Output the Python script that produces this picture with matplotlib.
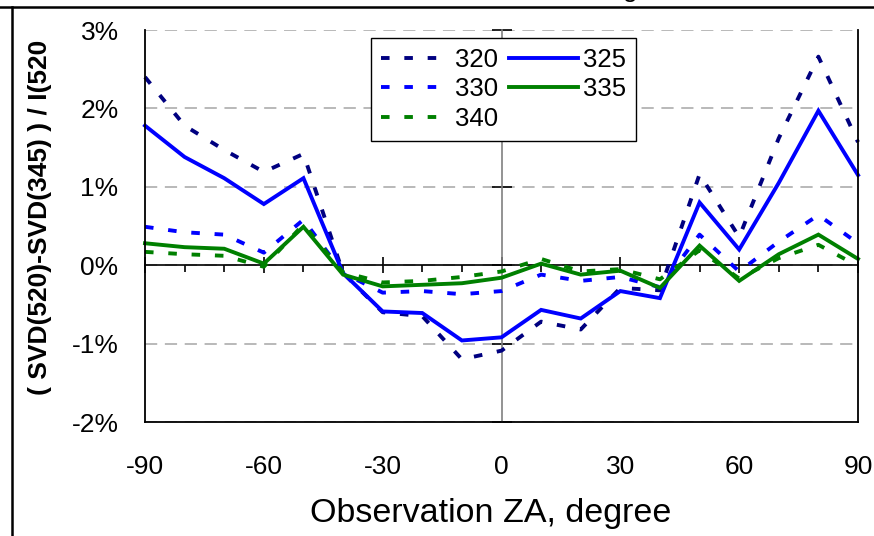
import matplotlib
matplotlib.use('Agg')
import matplotlib.pyplot as plt
from matplotlib.lines import Line2D
from matplotlib.ticker import MultipleLocator, FuncFormatter

plt.rcParams['font.family'] = ['Liberation Sans', 'DejaVu Sans']
plt.rcParams['axes.unicode_minus'] = False

# observation zenith angle, degree
za = [-90, -80, -70, -60, -50, -40, -30, -20, -10, 0, 10, 20, 30, 40, 50, 60, 70, 80, 90]

# relative difference, percent
s320 = [2.40, 1.78, 1.47, 1.19, 1.42, -0.10, -0.60, -0.65, -1.20, -1.09,
        -0.72, -0.82, -0.29, -0.32, 1.16, 0.36, 1.62, 2.66, 1.57]
s325 = [1.78, 1.38, 1.11, 0.78, 1.11, -0.10, -0.59, -0.61, -0.96, -0.92,
        -0.57, -0.68, -0.33, -0.42, 0.80, 0.20, 1.05, 1.97, 1.15]
s330 = [0.49, 0.42, 0.39, 0.16, 0.58, -0.10, -0.35, -0.33, -0.37, -0.33,
        -0.12, -0.20, -0.15, -0.28, 0.39, -0.08, 0.30, 0.64, 0.28]
s335 = [0.28, 0.23, 0.21, 0.02, 0.49, -0.12, -0.27, -0.25, -0.23, -0.16,
        0.02, -0.12, -0.07, -0.29, 0.25, -0.20, 0.14, 0.39, 0.08]
s340 = [0.17, 0.14, 0.12, -0.02, 0.52, -0.09, -0.22, -0.20, -0.15, -0.08,
        0.08, -0.08, -0.05, -0.18, 0.19, -0.17, 0.09, 0.26, -0.01]

series = [
    ('320', s320, '#000080', True),
    ('325', s325, '#0000ff', False),
    ('330', s330, '#0000ff', True),
    ('335', s335, '#008000', False),
    ('340', s340, '#008000', True),
]

W, H = 874, 536
fig = plt.figure(figsize=(W / 100, H / 100), dpi=100)
rect = [145 / W, 1 - 422 / H, (858 - 145) / W, (422 - 30) / H]

# back axes: grid and the crossing zero axes with their ticks
ax0 = fig.add_axes(rect)
ax0.set_xlim(-90, 90)
ax0.set_ylim(-2, 3)
ax0.spines['top'].set_visible(False)
ax0.spines['right'].set_visible(False)
ax0.spines['bottom'].set_position(('data', 0))
ax0.spines['left'].set_position(('data', 0))
ax0.spines['bottom'].set_color('black')
ax0.spines['bottom'].set_linewidth(1.2)
ax0.spines['left'].set_color('#808080')
ax0.spines['left'].set_linewidth(1.2)
ax0.xaxis.set_major_locator(MultipleLocator(30))
ax0.xaxis.set_minor_locator(MultipleLocator(10))
ax0.yaxis.set_major_locator(MultipleLocator(1))
ax0.tick_params(axis='x', which='major', direction='inout', length=12, width=1.2,
                labelbottom=False)
ax0.tick_params(axis='x', which='minor', direction='out', length=5, width=1.2)
ax0.tick_params(axis='y', which='major', direction='inout', length=14, width=1.2,
                labelleft=False)
ax0.yaxis.grid(True, color='#a6a6a6', linestyle=(0, (8, 5)), linewidth=1.1)
ax0.set_axisbelow(True)

# front axes: frame, labels and data
ax = fig.add_axes(rect, zorder=2)
ax.patch.set_alpha(0)
ax.set_xlim(-90, 90)
ax.set_ylim(-2, 3)
ax.spines['top'].set_visible(False)
for s in ['left', 'bottom', 'right']:
    ax.spines[s].set_linewidth(1.3)
ax.xaxis.set_major_locator(MultipleLocator(30))
ax.yaxis.set_major_locator(MultipleLocator(1))
ax.yaxis.set_major_formatter(FuncFormatter(lambda v, p: f'{v:.0f}%'))
ax.tick_params(axis='both', length=0, labelsize=19)
ax.tick_params(axis='x', pad=24)
ax.tick_params(axis='y', pad=19)

handles = {}
for name, vals, color, dashed in series:
    ls = (0, (2.2, 3.8)) if dashed else '-'
    ln, = ax.plot(za, vals, color=color, lw=2.8, linestyle=ls,
                  dash_capstyle='butt', solid_joinstyle='miter', clip_on=False)
    handles[name] = ln

order = ['320', '330', '340', '325', '335']
leg = ax.legend([handles[k] for k in order], order, ncol=2, loc='upper left',
                bbox_to_anchor=(371 / W, 1 - 38 / H), bbox_transform=fig.transFigure,
                borderaxespad=0, fontsize=18.5, handlelength=2.7, handletextpad=0.2,
                columnspacing=0.4, labelspacing=0.22, borderpad=0.38, fancybox=False,
                framealpha=1, edgecolor='black')
leg.get_frame().set_linewidth(1.0)

ax.set_xlabel('Observation ZA, degree', fontsize=24.5)
ax.xaxis.set_label_coords((491 - 145) / 713, (422 - 498) / 392)

fig.text(40 / W, 1 - 395 / H, '( SVD(520)-SVD(345) ) / I(520', rotation=90,
         ha='center', va='bottom', fontsize=19, fontweight='bold')

# cut-off title above the frame, only the descender shows
fig.text(630 / W, 1 + 3 / H, 'g', ha='center', va='baseline', fontsize=19)

# outer frame lines
fig.add_artist(Line2D([0, 1], [1 - 7 / H] * 2, transform=fig.transFigure,
                      color='black', lw=1.8))
fig.add_artist(Line2D([12 / W] * 2, [0, 1 - 7 / H], transform=fig.transFigure,
                      color='black', lw=1.8))

fig.savefig('out.png', dpi=100)
